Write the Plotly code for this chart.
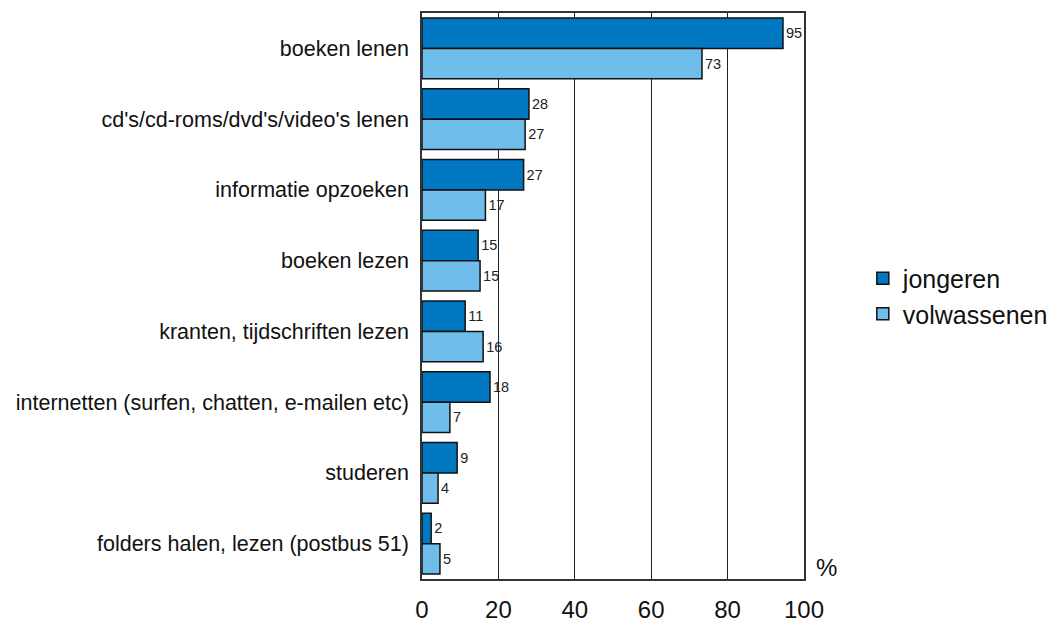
import plotly.graph_objects as go

categories = [
    "boeken lenen",
    "cd's/cd-roms/dvd's/video's lenen",
    "informatie opzoeken",
    "boeken lezen",
    "kranten, tijdschriften lezen",
    "internetten (surfen, chatten, e-mailen etc)",
    "studeren",
    "folders halen, lezen (postbus 51)",
]
jongeren = [94.5, 28.0, 26.6, 14.7, 11.3, 17.8, 9.2, 2.4]
volwassenen = [73.3, 27.0, 16.6, 15.2, 16.0, 7.3, 4.2, 4.7]
x_ticks = [0, 20, 40, 60, 80, 100]

FONT = "Arial, 'Liberation Sans', sans-serif"

fig = go.Figure()
fig.add_trace(go.Bar(
    y=categories, x=jongeren, name="jongeren", orientation="h",
    marker=dict(color="#0079C2", line=dict(color="#111111", width=1.5)),
    texttemplate="%{x:.0f}", textposition="outside",
    textfont=dict(size=14.5, color="#222222", family=FONT), cliponaxis=False,
))
fig.add_trace(go.Bar(
    y=categories, x=volwassenen, name="volwassenen", orientation="h",
    marker=dict(color="#6FBDEB", line=dict(color="#111111", width=1.5)),
    texttemplate="%{x:.0f}", textposition="outside",
    textfont=dict(size=14.5, color="#222222", family=FONT), cliponaxis=False,
))

fig.update_layout(
    width=1050, height=624,
    margin=dict(l=422, r=246, t=13, b=45, autoexpand=False),
    barmode="group", bargap=0.14, bargroupgap=0,
    plot_bgcolor="white", paper_bgcolor="white",
    font=dict(family=FONT, color="#111111"),
    showlegend=True,
    legend=dict(x=1.154, y=0.50, xanchor="left", yanchor="middle",
                font=dict(size=25, color="#111111"), traceorder="normal",
                itemwidth=30, bgcolor="rgba(0,0,0,0)"),
    uniformtext=dict(mode=False),
)
fig.update_xaxes(
    range=[0, 100], tickvals=x_ticks, ticktext=[str(v) for v in x_ticks],
    showgrid=True, gridcolor="#222222", gridwidth=1,
    showline=True, linecolor="#333333", linewidth=1.5, mirror=True,
    ticks="", ticklabelstandoff=8, tickfont=dict(size=24, color="#111111"),
    zeroline=False, automargin=False,
)
fig.update_yaxes(
    autorange="reversed", showgrid=False,
    showline=True, linecolor="#333333", linewidth=1.5, mirror=True,
    ticks="", ticklabelstandoff=7, tickfont=dict(size=21.5, color="#111111"),
    automargin=False,
)
fig.add_annotation(text="%", x=1.058, y=0.02, xref="paper", yref="paper",
                   xanchor="center", yanchor="middle", showarrow=False,
                   font=dict(size=24, color="#111111"))

fig.write_html(
    "out.html",
    config={"displayModeBar": False},
    post_script="document.body.style.margin='0';document.body.style.overflow='hidden';",
)
